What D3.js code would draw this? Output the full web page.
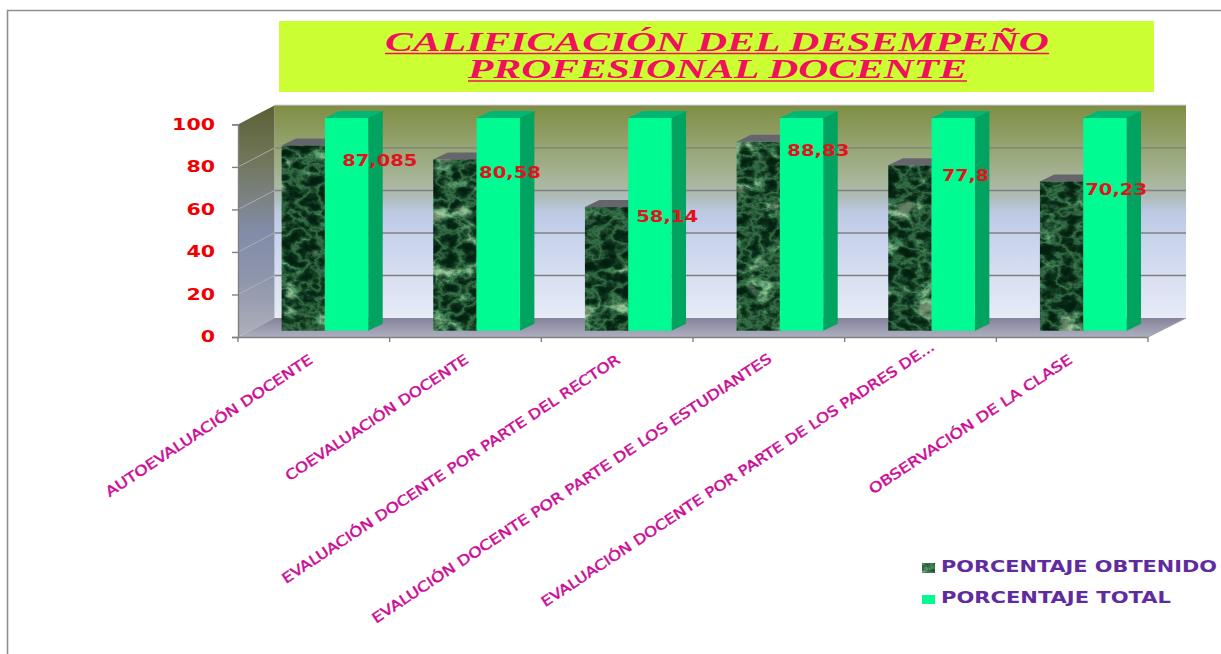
<!DOCTYPE html>
<html>
<head>
<meta charset="utf-8">
<script src="https://cdn.jsdelivr.net/npm/d3@7"></script>
<style>
html,body{margin:0;padding:0;background:#fff;overflow:hidden}
svg{display:block}
</style>
</head>
<body>
<svg id="chart" width="1221" height="654"></svg>
<script>
// Chart content
const titleLines = ["CALIFICACIÓN DEL DESEMPEÑO", "PROFESIONAL DOCENTE"];
const categories = [
  "AUTOEVALUACIÓN DOCENTE",
  "COEVALUACIÓN DOCENTE",
  "EVALUACIÓN DOCENTE POR PARTE DEL RECTOR",
  "EVALUCIÓN DOCENTE POR PARTE DE LOS ESTUDIANTES",
  "EVALUACIÓN DOCENTE POR PARTE DE LOS PADRES DE...",
  "OBSERVACIÓN DE LA CLASE"
];
const obtained = [87.085, 80.58, 58.14, 88.83, 77.8, 70.23];
const obtainedLabels = ["87,085", "80,58", "58,14", "88,83", "77,8", "70,23"];
const total = [100, 100, 100, 100, 100, 100];
const seriesNames = ["PORCENTAJE OBTENIDO", "PORCENTAJE TOTAL"];
const yTicks = [0, 20, 40, 60, 80, 100];

const svg = d3.select("#chart");
const defs = svg.append("defs");

// Plot geometry: front plane of the box, wall depth and bar depth
const plotLeft = 238, plotRight = 1148, plotBottom = 337, plotTop = 124.4;
const wallDx = 36.5, wallDy = -19;
const barDx = 14.5, barDy = -7;
const barPlaneDy = -6.3;
const barInset = 43.6, barW = 43.3;

const x = d3.scaleBand().domain(categories).range([plotLeft, plotRight]);
const y = d3.scaleLinear().domain([0, 100]).range([plotBottom, plotTop]);
const xSeries = d3.scaleBand().domain(seriesNames).range([0, barW * 2]);

const gradient = (id, stops) => {
  const g = defs.append("linearGradient").attr("id", id)
    .attr("x1", 0).attr("y1", 0).attr("x2", 0).attr("y2", 1);
  stops.forEach(([o, c]) => g.append("stop").attr("offset", o).attr("stop-color", c));
};
gradient("wallBack", [[0, "#7f8e42"], [0.2, "#96a574"], [0.36, "#a8b69c"], [0.43, "#aebcb8"], [0.5, "#bcc9e2"], [0.62, "#c8d3ec"], [1, "#e6ebf6"]]);
gradient("wallSide", [[0, "#5b6035"], [0.22, "#6f7556"], [0.42, "#7c8488"], [0.55, "#838ca8"], [0.75, "#8e96ac"], [1, "#adb0ba"]]);
gradient("floor", [[0, "#858299"], [1, "#adafc0"]]);

// Green marble fill for the obtained-percentage bars: dark stone, thin veins, pale clouds
const noiseLayer = (f, freq, octaves, seed, r, g, b, name) => {
  f.append("feTurbulence").attr("type", "fractalNoise")
    .attr("baseFrequency", freq).attr("numOctaves", octaves).attr("seed", seed);
  f.append("feColorMatrix").attr("type", "matrix")
    .attr("values", "1 0 0 0 0  1 0 0 0 0  1 0 0 0 0  0 0 0 0 1");
  const t = f.append("feComponentTransfer").attr("result", name);
  t.append("feFuncR").attr("type", "table").attr("tableValues", r);
  t.append("feFuncG").attr("type", "table").attr("tableValues", g);
  t.append("feFuncB").attr("type", "table").attr("tableValues", b);
};
const marble = (id, seed) => {
  const f = defs.append("filter").attr("id", id)
    .attr("x", 0).attr("y", 0).attr("width", 1).attr("height", 1)
    .attr("color-interpolation-filters", "sRGB");
  noiseLayer(f, "0.05 0.07", 5, seed,
    ".01 .01 .01 .01 .01 .01 .01 .02 .03 .05 .1 .16 .22 .16 .1 .05 .03 .02 .01 .01 .01 .01 .01 .01 .01",
    ".12 .12 .12 .12 .12 .12 .13 .14 .16 .2 .27 .36 .44 .36 .27 .2 .16 .14 .13 .12 .12 .12 .12 .12 .12",
    ".06 .06 .06 .06 .06 .06 .06 .07 .09 .11 .16 .22 .3 .22 .16 .11 .09 .07 .06 .06 .06 .06 .06 .06 .06", "veins");
  noiseLayer(f, "0.035 0.05", 6, seed + 40,
    "0 0 0 0 0 0 0 0 0 0 0 0 0 .01 .03 .08 .16 .26 .34 .4 .4 .4 .4 .4 .4",
    "0 0 0 0 0 0 0 0 0 0 0 0 0 .02 .06 .12 .2 .28 .34 .38 .38 .38 .38 .38 .38",
    "0 0 0 0 0 0 0 0 0 0 0 0 0 .01 .04 .09 .16 .24 .3 .33 .33 .33 .33 .33 .33", "clouds");
  f.append("feComposite").attr("in", "veins").attr("in2", "clouds")
    .attr("operator", "arithmetic").attr("k1", 0).attr("k2", 1).attr("k3", 1).attr("k4", 0);
  f.append("feGaussianBlur").attr("stdDeviation", 0.4);
  f.append("feComposite").attr("in2", "SourceGraphic").attr("operator", "in");
};
categories.forEach((c, i) => marble("marble" + i, i * 7 + 3));
marble("marbleKey", 11);

// Page frame
svg.append("path").attr("d", "M7.5,654V10.5H1221").attr("fill", "none")
  .attr("stroke", "#8f8f8f").attr("stroke-width", 1.6);

// Title banner with ruled underlines
svg.append("rect").attr("x", 279).attr("y", 21).attr("width", 875).attr("height", 71).attr("fill", "#ccff33");
const titleSpans = [[385, 664, 50.5], [468, 499, 78]];
svg.selectAll(".title").data(titleLines).join("text").attr("class", "title")
  .attr("x", (d, i) => titleSpans[i][0]).attr("y", (d, i) => titleSpans[i][2])
  .attr("textLength", (d, i) => titleSpans[i][1]).attr("lengthAdjust", "spacingAndGlyphs")
  .attr("font-family", "'Liberation Serif'").attr("font-weight", "bold").attr("font-style", "italic")
  .attr("font-size", 28).attr("fill", "#f0105c").text(d => d);
svg.selectAll(".rule").data(titleSpans).join("line").attr("class", "rule")
  .attr("x1", d => d[0]).attr("x2", d => d[0] + d[1])
  .attr("y1", d => d[2] + 3).attr("y2", d => d[2] + 3)
  .attr("stroke", "#f0105c").attr("stroke-width", 1.6);

// Box walls
const pts = a => a.map(p => p.join(",")).join(" ");
svg.append("polygon").attr("fill", "url(#wallBack)")
  .attr("points", pts([[plotLeft + wallDx, plotTop + wallDy], [plotRight + wallDx + 1.5, plotTop + wallDy], [plotRight + wallDx + 1.5, plotBottom + wallDy], [plotLeft + wallDx, plotBottom + wallDy]]));
svg.append("polygon").attr("fill", "url(#wallSide)")
  .attr("points", pts([[plotLeft, plotTop], [plotLeft + wallDx, plotTop + wallDy], [plotLeft + wallDx, plotBottom + wallDy], [plotLeft, plotBottom]]));
svg.append("polygon").attr("fill", "url(#floor)")
  .attr("points", pts([[plotLeft, plotBottom], [plotLeft + wallDx, plotBottom + wallDy], [plotRight + wallDx + 1.5, plotBottom + wallDy], [plotRight, plotBottom]]));

// Gridlines on the back wall and their continuation along the side wall
const grid = svg.append("g");
grid.selectAll(".back").data(yTicks.slice(1)).join("line").attr("class", "back")
  .attr("x1", plotLeft + wallDx).attr("x2", plotRight + wallDx + 1.5)
  .attr("y1", d => y(d) + wallDy).attr("y2", d => y(d) + wallDy)
  .attr("stroke", d => d === 100 ? "#a8a8a8" : "#7f7f7f").attr("stroke-width", 1.4);
grid.selectAll(".side").data(yTicks.slice(1, 5)).join("line").attr("class", "side")
  .attr("x1", plotLeft).attr("x2", plotLeft + wallDx)
  .attr("y1", d => y(d)).attr("y2", d => y(d) + wallDy)
  .attr("stroke", "#b4b8bc").attr("stroke-width", 0.8);

// Y axis with the tick labels
const yAxis = svg.append("g").attr("transform", `translate(${plotLeft},0)`)
  .call(d3.axisLeft(y).tickValues(yTicks).tickSize(6).tickPadding(17));
yAxis.selectAll("path,line").attr("stroke", "#808080").attr("stroke-width", 1.4);
yAxis.selectAll("text").attr("font-family", "'DejaVu Sans'").attr("font-weight", "bold")
  .attr("font-size", 15).attr("fill", "#f00000")
  .attr("textLength", d => String(d).length * 14.3).attr("lengthAdjust", "spacingAndGlyphs");

// X axis baseline and category ticks
const tickXs = d3.range(categories.length + 1).map(i => plotLeft + x.step() * i);
svg.append("line").attr("x1", plotLeft).attr("x2", plotRight).attr("y1", plotBottom + 0.5).attr("y2", plotBottom + 0.5)
  .attr("stroke", "#808080").attr("stroke-width", 1.6);
svg.selectAll(".xtick").data(tickXs).join("line").attr("class", "xtick")
  .attr("x1", d => d).attr("x2", d => d).attr("y1", plotBottom).attr("y2", plotBottom + 5)
  .attr("stroke", "#808080").attr("stroke-width", 1.4);
svg.append("line").attr("x1", plotRight).attr("x2", plotRight + wallDx + 1.5).attr("y1", plotBottom).attr("y2", plotBottom + wallDy)
  .attr("stroke", "#a0a0a0");

// Bars: each is a front face with a top face and a side face
const drawBar = (g, bx, value, front, topFill, sideFill) => {
  const y0 = y(0) + barPlaneDy, y1 = y(value) + barPlaneDy;
  g.append("polygon").attr("fill", topFill)
    .attr("points", pts([[bx, y1], [bx + barDx, y1 + barDy], [bx + barW + barDx, y1 + barDy], [bx + barW, y1]]));
  g.append("polygon").attr("fill", sideFill)
    .attr("points", pts([[bx + barW, y1], [bx + barW + barDx, y1 + barDy], [bx + barW + barDx, y0 + barDy], [bx + barW, y0]]));
  const r = g.append("rect").attr("x", bx).attr("y", y1).attr("width", barW).attr("height", y0 - y1);
  front(r);
};
categories.forEach((c, i) => {
  const g = svg.append("g");
  const bx = x(c) + barInset;
  drawBar(g, bx + xSeries(seriesNames[0]), obtained[i],
    r => r.attr("fill", "#0a3a1c").attr("filter", `url(#marble${i})`), "#66646c", "#0f3d20");
  drawBar(g, bx + xSeries(seriesNames[1]), total[i],
    r => r.attr("fill", "#00fb92"), "#00b873", "#00a35f");
});

// Value labels beside the bars
const labelDx = [66, 44.5, 50, 49.5, 45, 44];
const labelDy = [15, 13, 10, 9, 10, 8];
svg.selectAll(".value").data(obtainedLabels).join("text").attr("class", "value")
  .attr("x", (d, i) => x(categories[i]) + x.bandwidth() / 2 + labelDx[i])
  .attr("y", (d, i) => y(obtained[i]) + barPlaneDy + labelDy[i])
  .attr("dy", "0.36em").attr("text-anchor", "middle")
  .attr("textLength", (d, i) => [75, 62, 62, 62, 47, 62][i]).attr("lengthAdjust", "spacingAndGlyphs")
  .attr("font-family", "'DejaVu Sans'").attr("font-size", 15).attr("font-weight", "bold")
  .attr("fill", "#e0141e").text(d => d);

// Slanted category labels ending under the middle of each group
const labelLen = [245, 216, 402, 476, 468, 240];
const labelShift = [[-1, 0], [3, 0], [3, 0], [3, -1], [14, -13], [0, 0]];
svg.selectAll(".cat").data(categories).join("text").attr("class", "cat")
  .attr("transform", (d, i) => `translate(${x(d) + x.bandwidth() / 2 + 1 + labelShift[i][0]},${362 + labelShift[i][1]}) rotate(-33.5)`)
  .attr("text-anchor", "end")
  .attr("textLength", (d, i) => labelLen[i]).attr("lengthAdjust", "spacingAndGlyphs")
  .attr("font-family", "'DejaVu Sans'").attr("font-size", 14).attr("font-weight", "normal")
  .attr("stroke", "#cc0a96").attr("stroke-width", 0.45)
  .attr("fill", "#cc0a96").text(d => d);

// Legend
const key = svg.append("g");
const keyY = [567, 598];
key.append("rect").attr("x", 922).attr("y", keyY[0] - 4).attr("width", 13).attr("height", 10)
  .attr("fill", "#0a3a1c").attr("filter", "url(#marbleKey)");
key.append("rect").attr("x", 922).attr("y", keyY[1] - 3).attr("width", 13).attr("height", 9).attr("fill", "#00fb92");
key.selectAll("text").data(seriesNames).join("text")
  .attr("x", 941).attr("y", (d, i) => keyY[i]).attr("dy", "0.35em")
  .attr("textLength", (d, i) => [276, 230][i]).attr("lengthAdjust", "spacingAndGlyphs")
  .attr("font-family", "'DejaVu Sans'").attr("font-size", 15).attr("font-weight", "bold")
  .attr("fill", "#5f2ca0").text(d => d);
</script>
</body>
</html>
